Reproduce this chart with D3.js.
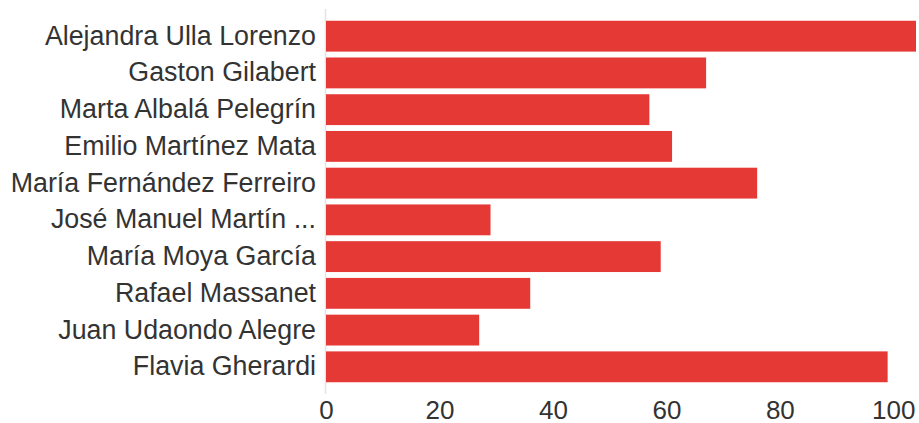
<!DOCTYPE html>
<html>
<head>
<meta charset="utf-8">
<script src="https://cdn.jsdelivr.net/npm/d3@7"></script>
<style>
  body { margin: 0; background: #fff; }
  #chart { width: 919px; height: 423px; }
</style>
</head>
<body>
<div id="chart"></div>
<script>
const names = [
    "Alejandra Ulla Lorenzo",
    "Gaston Gilabert",
    "Marta Albalá Pelegrín",
    "Emilio Martínez Mata",
    "María Fernández Ferreiro",
    "José Manuel Martín ...",
    "María Moya García",
    "Rafael Massanet",
    "Juan Udaondo Alegre",
    "Flavia Gherardi"
];
const values = [104, 67, 57, 61, 76, 29, 59, 36, 27, 99];
const tickValues = [0, 20, 40, 60, 80, 100];

function renderBars(containerSelector) {
    const container = d3.select(containerSelector);
    const width = 919;
    const height = 423;

    const data = names.map((n, i) => ({ name: n, value: values[i] }));

    const left = 326, right = 916, top = 9, bottom = 394;

    const x = d3.scaleLinear()
        .domain([0, d3.max(values)])
        .range([left, right]);

    const y = d3.scaleBand()
        .domain(names)
        .range([top, bottom])
        .paddingInner(0.16)
        .paddingOuter(0.32);

    const svg = container.append("svg")
        .attr("width", width)
        .attr("height", height)
        .style("font-family", "'Liberation Sans', Arial, sans-serif");

    // vertical baseline
    svg.append("line")
        .attr("x1", left - 0.5).attr("x2", left - 0.5)
        .attr("y1", top).attr("y2", bottom)
        .attr("stroke", "#e4e4e4")
        .attr("stroke-width", 1.5);

    svg.append("g")
        .selectAll("rect")
        .data(data)
        .join("rect")
        .attr("x", x(0))
        .attr("y", d => y(d.name))
        .attr("width", d => x(d.value) - x(0))
        .attr("height", y.bandwidth())
        .attr("fill", "#e53935");

    // category labels
    const yAxis = svg.append("g")
        .attr("transform", `translate(${left},0)`)
        .call(d3.axisLeft(y).tickSize(0).tickPadding(10));
    yAxis.select(".domain").remove();
    yAxis.selectAll("text")
        .style("font-size", "26.8px")
        .style("font-family", "'Liberation Sans', Arial, sans-serif")
        .attr("fill", "#333");

    // value ticks
    const xAxis = svg.append("g")
        .attr("transform", `translate(0,${bottom})`)
        .call(d3.axisBottom(x).tickValues(tickValues).tickSize(0).tickPadding(7));
    xAxis.select(".domain").remove();
    xAxis.selectAll("text")
        .style("font-size", "26px")
        .style("font-family", "'Liberation Sans', Arial, sans-serif")
        .attr("fill", "#333");
}

renderBars("#chart");
</script>
</body>
</html>
